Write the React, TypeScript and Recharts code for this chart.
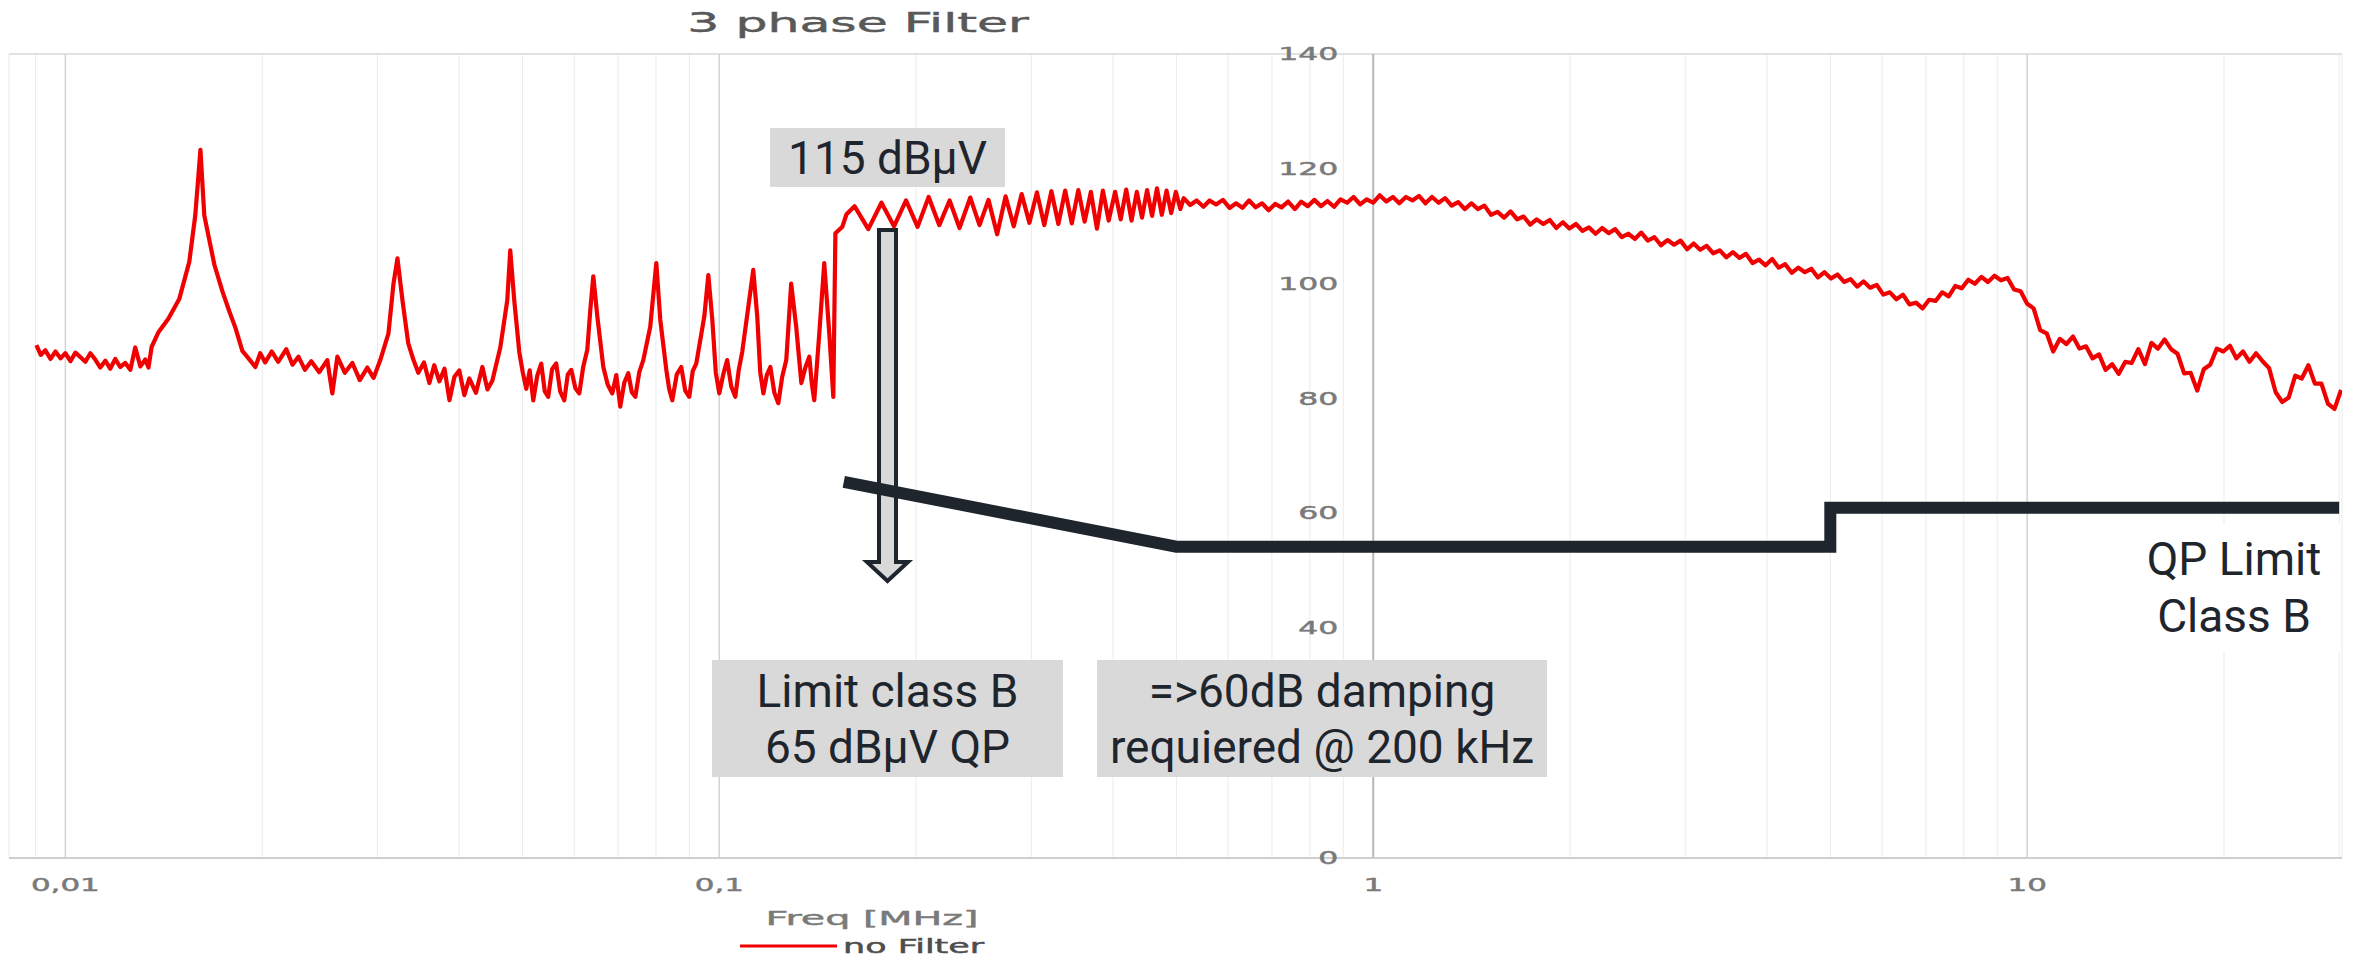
import React from "react";
import { LineChart, Line, XAxis, YAxis, CartesianGrid, ReferenceLine, ReferenceDot } from "recharts";

// measured spectrum, "no Filter" (freq in MHz, level in dBµV)
const lowBand: [number, number][] = [
  [0.00903, 89.3], [0.00917, 87.6], [0.00932, 88.4], [0.00949, 86.9], [0.00966, 88.2], [0.00983, 87.0],
  [0.01, 87.9], [0.01018, 86.5], [0.01036, 88.0], [0.01055, 87.2], [0.01073, 86.4], [0.01092, 87.9],
  [0.01111, 86.8], [0.01131, 85.4], [0.01151, 86.6], [0.01171, 85.2], [0.01192, 86.9], [0.01213, 85.5],
  [0.01235, 86.2], [0.01257, 85.0], [0.01279, 88.9], [0.01302, 85.6], [0.01325, 86.8], [0.0134, 85.4],
  [0.01355, 89.0], [0.01387, 91.5], [0.01437, 93.9], [0.01494, 97.4], [0.01547, 103.8], [0.0158, 111.9],
  [0.01609, 123.3], [0.01631, 111.9], [0.0169, 103.3], [0.01738, 98.7], [0.01781, 95.2], [0.01819, 92.4],
  [0.01865, 88.3], [0.01918, 86.6], [0.01952, 85.5], [0.01986, 87.9], [0.02021, 86.3], [0.02068, 88.2],
  [0.02116, 86.4], [0.02177, 88.6], [0.02225, 85.9], [0.02272, 87.3], [0.02325, 85.0], [0.02377, 86.5],
  [0.02445, 84.6], [0.02515, 86.7], [0.0256, 80.9], [0.02606, 87.3], [0.02675, 84.5], [0.02747, 86.2],
  [0.0282, 83.2], [0.02896, 85.4], [0.0296, 83.6], [0.03031, 86.7], [0.03119, 91.3], [0.03175, 100.0],
  [0.0322, 104.4], [0.03277, 97.1], [0.03345, 89.6], [0.03405, 86.8], [0.03465, 84.5], [0.03535, 86.3],
  [0.03603, 82.7], [0.03665, 85.8], [0.03732, 83.0], [0.038, 85.2], [0.03867, 79.7], [0.03935, 83.8],
  [0.04003, 84.9], [0.04075, 80.6], [0.04147, 83.5], [0.04245, 81.0], [0.04342, 85.5], [0.0442, 81.6],
  [0.04497, 83.1], [0.04625, 88.9], [0.0474, 97.1], [0.0479, 105.8], [0.04858, 97.1], [0.04945, 88.1],
  [0.05005, 84.6], [0.05068, 81.7], [0.0513, 84.9], [0.05194, 79.7], [0.05268, 84.0], [0.05342, 86.1],
  [0.05408, 81.3], [0.05475, 80.3], [0.0555, 85.1], [0.05631, 86.1], [0.05712, 81.2], [0.05794, 79.7],
  [0.05865, 84.2], [0.05939, 85.0], [0.06025, 81.8], [0.06108, 80.9], [0.06195, 85.6], [0.06283, 88.5],
  [0.0635, 95.5], [0.06417, 101.3], [0.06509, 94.3], [0.06647, 85.5], [0.06752, 82.4], [0.06861, 80.9],
  [0.06958, 84.1], [0.07056, 78.6], [0.07158, 82.8], [0.07258, 84.4], [0.0735, 81.1], [0.0744, 80.3],
  [0.07545, 84.6], [0.07652, 86.7], [0.07842, 92.5], [0.08011, 103.6], [0.08124, 93.7], [0.08298, 85.0],
  [0.08385, 81.6], [0.08474, 79.7], [0.0861, 84.2], [0.08747, 85.5], [0.0887, 81.4], [0.08996, 80.3],
  [0.09108, 84.8], [0.09221, 86.1], [0.09486, 94.3], [0.09621, 101.5], [0.09757, 93.7], [0.09878, 84.5],
  [0.1, 80.9], [0.1014, 84.2], [0.1028, 86.7], [0.1043, 82.1], [0.1058, 80.3], [0.1071, 85.0],
  [0.1084, 88.1], [0.1111, 97.1], [0.1127, 102.4], [0.1143, 94.3], [0.1155, 84.6], [0.1168, 80.9],
  [0.1182, 84.1], [0.1197, 85.5], [0.1214, 81.0], [0.1231, 79.2], [0.1248, 83.8], [0.1266, 86.7],
  [0.1288, 100.0], [0.1311, 92.5], [0.1335, 82.7], [0.1354, 85.4], [0.1373, 87.3], [0.1385, 82.6],
  [0.1397, 79.7], [0.1422, 91.3], [0.1447, 103.6], [0.1473, 91.3], [0.1494, 80.3], [0.1505, 108.8],
  [0.1542, 109.9], [0.1565, 112.1],
];

const rippleBand: [number, number][] = [
  [0.161, 113.5], [0.169, 109.5], [0.177, 114.1], [0.185, 110.0], [0.193, 114.5], [0.201, 109.9],
  [0.209, 115.1], [0.217, 110.2], [0.225, 114.5], [0.233, 109.7], [0.242, 115.0], [0.25, 110.2],
  [0.258, 114.6], [0.266, 108.6], [0.274, 115.2], [0.282, 110.0], [0.29, 115.6], [0.298, 110.6],
  [0.306, 115.9], [0.314, 110.2], [0.322, 116.1], [0.33, 110.4], [0.338, 116.2], [0.346, 110.5],
  [0.354, 116.3], [0.362, 110.8], [0.37, 116.0], [0.378, 109.6], [0.386, 116.2], [0.394, 111.0],
  [0.403, 116.0], [0.411, 111.2], [0.419, 116.4], [0.427, 111.0], [0.435, 116.0], [0.443, 111.5],
  [0.451, 116.3], [0.459, 111.8], [0.467, 116.6], [0.475, 112.0], [0.483, 116.2], [0.491, 112.3],
  [0.499, 116.0], [0.507, 113.0],
];

const highBand: [number, number][] = [
  [0.513, 114.9], [0.525, 113.7], [0.537, 114.5], [0.55, 113.4], [0.562, 114.5], [0.575, 113.8],
  [0.589, 114.6], [0.603, 113.2], [0.617, 114.0], [0.631, 113.2], [0.646, 114.5], [0.661, 113.3],
  [0.676, 114.0], [0.692, 112.8], [0.708, 113.9], [0.724, 113.3], [0.741, 114.3], [0.759, 113.0],
  [0.776, 114.3], [0.794, 113.5], [0.813, 114.6], [0.832, 113.5], [0.851, 114.4], [0.871, 113.4],
  [0.891, 114.7], [0.912, 114.1], [0.933, 115.1], [0.955, 113.8], [0.977, 114.7], [1.0, 114.1],
  [1.023, 115.4], [1.047, 114.3], [1.072, 115.1], [1.096, 114.0], [1.122, 115.1], [1.148, 114.5],
  [1.175, 115.3], [1.202, 114.0], [1.23, 115.1], [1.259, 114.1], [1.288, 114.9], [1.318, 113.6],
  [1.349, 114.2], [1.38, 113.0], [1.413, 114.0], [1.445, 113.0], [1.479, 113.6], [1.514, 112.0],
  [1.549, 112.5], [1.585, 111.5], [1.622, 112.6], [1.66, 111.2], [1.698, 111.7], [1.738, 110.3],
  [1.778, 111.2], [1.82, 110.4], [1.862, 111.1], [1.905, 109.7], [1.95, 110.7], [1.995, 109.6],
  [2.042, 110.4], [2.089, 109.2], [2.138, 109.8], [2.188, 108.7], [2.239, 109.7], [2.291, 108.8],
  [2.344, 109.5], [2.399, 108.1], [2.455, 108.7], [2.512, 107.8], [2.57, 108.9], [2.63, 107.5],
  [2.692, 108.1], [2.754, 106.7], [2.818, 107.6], [2.884, 106.8], [2.951, 107.5], [3.02, 106.0],
  [3.09, 107.0], [3.162, 105.9], [3.236, 106.6], [3.311, 105.3], [3.388, 105.8], [3.467, 104.6],
  [3.548, 105.5], [3.631, 104.5], [3.715, 105.2], [3.802, 103.6], [3.89, 104.2], [3.981, 103.2],
  [4.074, 104.3], [4.169, 102.8], [4.266, 103.4], [4.365, 101.9], [4.467, 102.8], [4.571, 102.0],
  [4.677, 102.6], [4.786, 101.1], [4.898, 102.0], [5.012, 100.9], [5.129, 101.6], [5.248, 100.3],
  [5.37, 100.8], [5.495, 99.5], [5.623, 100.4], [5.754, 99.3], [5.888, 99.8], [6.026, 98.1],
  [6.166, 98.5], [6.31, 97.3], [6.457, 98.1], [6.607, 96.4], [6.761, 96.7], [6.918, 95.7],
  [7.079, 97.2], [7.244, 97.0], [7.413, 98.5], [7.586, 97.8], [7.762, 99.6], [7.943, 99.2],
  [8.128, 100.7], [8.318, 100.0], [8.511, 101.2], [8.71, 100.3], [8.913, 101.4], [9.12, 100.6],
  [9.333, 101.0], [9.55, 99.0], [9.772, 98.7], [10.0, 96.5], [10.23, 95.7], [10.47, 91.9],
  [10.72, 91.3], [10.96, 88.2], [11.22, 90.4], [11.48, 89.5], [11.75, 90.8], [12.02, 88.7],
  [12.3, 89.1], [12.59, 87.0], [12.88, 87.7], [13.18, 85.0], [13.49, 86.0], [13.8, 84.3],
  [14.13, 86.4], [14.45, 86.2], [14.79, 88.6], [15.14, 86.0], [15.49, 89.7], [15.85, 88.7],
  [16.22, 90.3], [16.6, 88.6], [16.98, 87.8], [17.38, 84.4], [17.78, 84.5], [18.2, 81.4],
  [18.62, 85.1], [19.05, 85.9], [19.5, 88.7], [19.95, 88.2], [20.42, 89.2], [20.89, 87.0],
  [21.38, 88.2], [21.88, 86.4], [22.39, 87.9], [22.91, 86.5], [23.44, 85.3], [23.99, 81.1],
  [24.55, 79.4], [25.12, 80.2], [25.7, 84.0], [26.3, 83.5], [26.92, 85.8], [27.54, 82.6],
  [28.18, 82.6], [28.84, 79.1], [29.51, 78.2], [30.2, 81.5],
];

// QP limit class B as drawn
const limitFreqMHz = [0.155, 0.5, 5, 5, 30];
const limitDb = [65.5, 54.2, 54.2, 61, 61];

const majorTicksMHz = [0.01, 0.1, 1, 10];
const majorTickLabels = ["0,01", "0,1", "1", "10"];
const minorGridMHz = [
  0.009, 0.02, 0.03, 0.04, 0.05, 0.06, 0.07, 0.08, 0.09,
  0.2, 0.3, 0.4, 0.5, 0.6, 0.7, 0.8, 0.9,
  2, 3, 4, 5, 6, 7, 8, 9, 20, 30,
];
const levelTicks = [0, 20, 40, 60, 80, 100, 120, 140];
// the "20" label is hidden under the damping note in the original
const levelLabels = [0, 40, 60, 80, 100, 120, 140];

const noFilterData = [...lowBand, ...rippleBand, ...highBand].map(([f, db]) => ({ f, db }));
const limitData = limitFreqMHz.map((f, i) => ({ f, db: limitDb[i] }));
const gridTicks = [...minorGridMHz, ...majorTicksMHz].sort((a, b) => a - b);

const W = 2371;
const H = 963;
const AXIS_FONT = "'DejaVu Sans', Verdana, sans-serif";
const NOTE_FONT = "Roboto, 'Noto Sans', sans-serif";

// the original chart text is horizontally stretched
function Wide({ x, y, size, fill, anchor = "middle", sx = 1.85, children }: any) {
  return (
    <text
      transform={`translate(${x} ${y}) scale(${sx} 1)`}
      textAnchor={anchor}
      fontFamily={AXIS_FONT}
      fontSize={size}
      fill={fill}
      stroke={fill}
      strokeWidth={0.45}
    >
      {children}
    </text>
  );
}

function FreqTick({ x, y, payload }: any) {
  const i = majorTicksMHz.indexOf(payload.value);
  if (i < 0) return <g />;
  return <Wide x={x} y={y + 33} size={17} fill="#7a7a7a" sx={1.82}>{majorTickLabels[i]}</Wide>;
}

const noteBox: React.CSSProperties = {
  position: "absolute",
  background: "#d9d9d9",
  color: "#1e252d",
  fontFamily: NOTE_FONT,
  fontSize: 46,
  lineHeight: "56px",
  textAlign: "center",
  display: "flex",
  flexDirection: "column",
  justifyContent: "center",
};

export default function App() {
  return (
    <div style={{ position: "relative", width: W, height: H, background: "#fff" }}>
      <style>{"body{margin:0}"}</style>

      {/* arrow sits under the chart so the limit line crosses over it */}
      <svg width={W} height={H} style={{ position: "absolute", left: 0, top: 0 }}>
        <path
          d="M879 230 H896 V562 H908 L887.5 581 L867 562 H879 Z"
          fill="#d9d9d9"
          stroke="#1e252d"
          strokeWidth={4}
        />
      </svg>

      <LineChart width={W} height={H} margin={{ top: 54, right: 29, bottom: 55, left: 9 }}>
        <CartesianGrid stroke="#ebebeb" horizontal={false} />
        <CartesianGrid stroke="#d9d9d9" strokeWidth={1.5} vertical={false} />
        <XAxis
          dataKey="f"
          type="number"
          scale="log"
          domain={[0.0082, 30.3]}
          allowDataOverflow
          ticks={gridTicks}
          interval={0}
          tick={<FreqTick />}
          tickLine={false}
          tickSize={0}
          tickMargin={0}
          axisLine={{ stroke: "#c8c8c8", strokeWidth: 1.5 }}
          height={50}
        />
        <YAxis
          type="number"
          domain={[0, 140]}
          ticks={levelTicks}
          width={0}
          axisLine={false}
          tickLine={false}
          tick={false}
        />
        {majorTicksMHz.map((f) => (
          <ReferenceLine
            key={f}
            x={f}
            stroke={f === 1 ? "#b8b8b8" : "#d4d4d4"}
            strokeWidth={f === 1 ? 2 : 1.5}
          />
        ))}
        {levelLabels.map((v) => (
          <ReferenceDot
            key={v}
            x={1}
            y={v}
            r={1}
            shape={(p: any) => (
              <Wide x={p.cx - 35} y={p.cy + 6} size={17} fill="#7a7a7a" anchor="end" sx={1.85}>
                {v}
              </Wide>
            )}
          />
        ))}
        <Line
          data={noFilterData}
          dataKey="db"
          type="linear"
          stroke="#f00000"
          strokeWidth={4.2}
          strokeLinejoin="round"
          dot={false}
          isAnimationActive={false}
        />
        <Line
          data={limitData}
          dataKey="db"
          type="linear"
          stroke="#1e252d"
          strokeWidth={12}
          strokeLinecap="butt"
          dot={false}
          isAnimationActive={false}
        />
      </LineChart>

      {/* title, axis title, legend */}
      <svg width={W} height={H} style={{ position: "absolute", left: 0, top: 0, pointerEvents: "none" }}>
        <Wide x={858} y={32} size={27} fill="#595959" sx={1.87}>3 phase Filter</Wide>
        <Wide x={872} y={925} size={20} fill="#7a7a7a" sx={1.98}>Freq [MHz]</Wide>
        <line x1={740} x2={837} y1={946} y2={946} stroke="#f00000" strokeWidth={3} />
        <Wide x={843} y={953} size={19} fill="#4d4d4d" anchor="start" sx={1.84}>no Filter</Wide>
      </svg>

      <div style={{ ...noteBox, left: 770, top: 128, width: 235, height: 59 }}>115 dBµV</div>
      <div style={{ ...noteBox, left: 712, top: 660, width: 351, height: 117 }}>
        <div>Limit class B</div>
        <div>65 dBµV QP</div>
      </div>
      <div style={{ ...noteBox, left: 1097, top: 660, width: 450, height: 117 }}>
        <div>=&gt;60dB damping</div>
        <div>requiered @ 200 kHz</div>
      </div>
      <div style={{ ...noteBox, background: "#fff", left: 2128, top: 524, width: 212, height: 128, lineHeight: "57px" }}>
        <div>QP Limit</div>
        <div>Class B</div>
      </div>
    </div>
  );
}
